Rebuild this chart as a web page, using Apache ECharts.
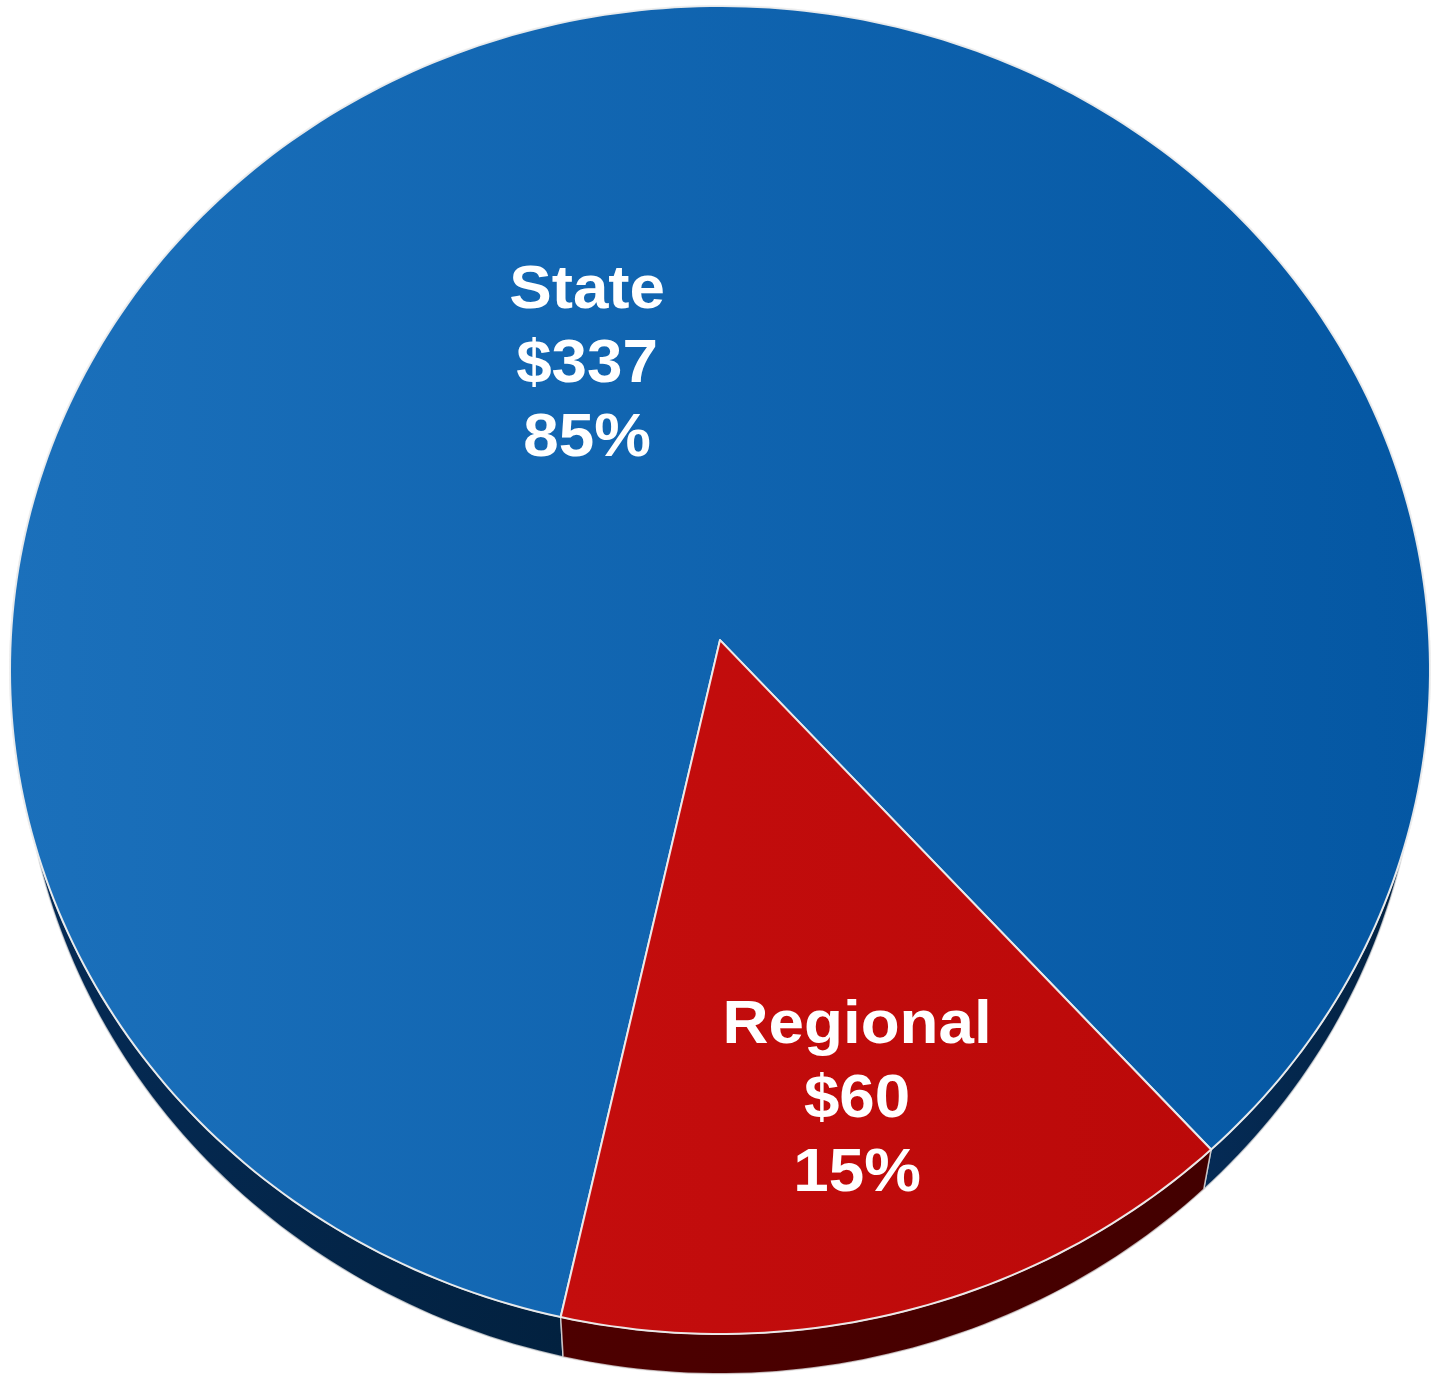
<!DOCTYPE html>
<html>
<head>
<meta charset="utf-8">
<title>State vs Regional</title>
<script src="https://cdn.jsdelivr.net/npm/echarts@6/dist/echarts.min.js"></script>
<style>
  html, body { margin: 0; padding: 0; background: #ffffff; }
  #chart { width: 1434px; height: 1398px; }
</style>
</head>
<body>
<div id="chart"></div>
<script>
// Funding split
const categories = ['State', 'Regional'];
const amounts = [337, 60];

// Look of the tilted pie
const START_ANGLE = 102.4;      // where the first slice begins, degrees clockwise from 3 o'clock
const TILT = -0.045;            // perspective shift of the pie centre (unit-disk space)
const DEPTH = 0.06;             // thickness of the disk, in y-axis units
const BASE_SCALE_X = 0.985;     // far-edge narrowing of the underside
const topFill = [
  ['#1b70bb', '#0457a3'],
  ['#c40d0d', '#bb0909']
];
const sideFill = [
  ['#052b56', '#02213f'],
  ['#4d0000', '#430000']
];
const labelPlacement = [        // [radius, angle nudge] for each label
  [0.464, -9.5],
  [0.699, -0.75]
];

const total = amounts.reduce((s, v) => s + v, 0);
const spans = [];
let acc = START_ANGLE;
amounts.forEach(v => {
  const sweep = v / total * 360;
  spans.push([acc, acc + sweep]);
  acc += sweep;
});

// Perspective map of the unit disk onto itself (keeps the rim on the unit circle)
const CH = 1 / Math.sqrt(1 - TILT * TILT);
const SH = TILT * CH;
function project(r, deg) {
  const a = deg * Math.PI / 180;
  const u = r * Math.cos(a), v = r * Math.sin(a);
  const w = SH * v + CH;
  return [u / w, (CH * v + SH) / w];
}
function rimTop(api, deg) { return api.coord(project(1, deg)); }
function rimBottom(api, deg) {
  const p = project(1, deg);
  return api.coord([p[0] * BASE_SCALE_X, p[1] + DEPTH]);
}
function grad(c) {
  return { type: 'linear', x: 0, y: 0, x2: 1, y2: 0,
    colorStops: [{ offset: 0, color: c[0] }, { offset: 1, color: c[1] }] };
}
function arcSteps(a0, a1) { return Math.max(2, Math.ceil(Math.abs(a1 - a0))); }

// Front-facing pieces of an angular span
function visiblePieces(a0, a1) {
  const out = [];
  for (let base = -360; base <= 720; base += 360) {
    const lo = Math.max(a0, base - 10), hi = Math.min(a1, base + 190);
    if (hi > lo) out.push([lo, hi]);
  }
  return out;
}

function renderSide(params, api) {
  const i = params.dataIndex;
  const children = [];
  visiblePieces(spans[i][0], spans[i][1]).forEach(([a0, a1]) => {
    const n = arcSteps(a0, a1);
    const pts = [];
    for (let k = 0; k <= n; k++) pts.push(rimTop(api, a0 + (a1 - a0) * k / n));
    for (let k = n; k >= 0; k--) pts.push(rimBottom(api, a0 + (a1 - a0) * k / n));
    children.push({
      type: 'polygon',
      shape: { points: pts },
      style: { fill: grad(sideFill[i]), stroke: 'rgba(225,225,225,0.75)', lineWidth: 1.5, lineJoin: 'round' }
    });
  });
  return { type: 'group', children };
}

function renderTop(params, api) {
  const i = params.dataIndex;
  const [a0, a1] = spans[i];
  const n = arcSteps(a0, a1);
  const pts = [api.coord(project(0, 0))];
  for (let k = 0; k <= n; k++) pts.push(rimTop(api, a0 + (a1 - a0) * k / n));
  const value = api.value(2);
  const pct = Math.round(value / total * 100);
  const [lr, nudge] = labelPlacement[i];
  const lp = api.coord(project(lr, (a0 + a1) / 2 + nudge));
  return {
    type: 'group',
    children: [
      {
        type: 'polygon',
        shape: { points: pts },
        style: { fill: grad(topFill[i]), stroke: 'rgba(238,238,238,0.95)', lineWidth: 2, lineJoin: 'round' }
      },
      {
        type: 'text',
        x: lp[0], y: lp[1],
        scaleX: 1.045,
        style: {
          text: categories[i] + '\n$' + value + '\n' + pct + '%',
          fill: '#ffffff',
          font: 'bold 61px "Liberation Sans", Arial, sans-serif',
          lineHeight: 74,
          align: 'center',
          verticalAlign: 'middle'
        }
      }
    ]
  };
}

const seriesData = categories.map((c, i) => ({ name: c, value: [0, 0, amounts[i]] }));

const chart = echarts.init(document.getElementById('chart'), null, { renderer: 'canvas' });
chart.setOption({
  animation: false,
  backgroundColor: '#ffffff',
  grid: { left: 10, top: 6, width: 1420, height: 1328 },
  xAxis: { type: 'value', min: -1, max: 1, show: false },
  yAxis: { type: 'value', min: -1, max: 1, inverse: true, show: false },
  series: [
    { type: 'custom', name: 'side', renderItem: renderSide, data: seriesData, encode: { x: 0, y: 1 }, clip: false, silent: true },
    { type: 'custom', name: 'top', renderItem: renderTop, data: seriesData, encode: { x: 0, y: 1 }, clip: false }
  ]
});
</script>
</body>
</html>
